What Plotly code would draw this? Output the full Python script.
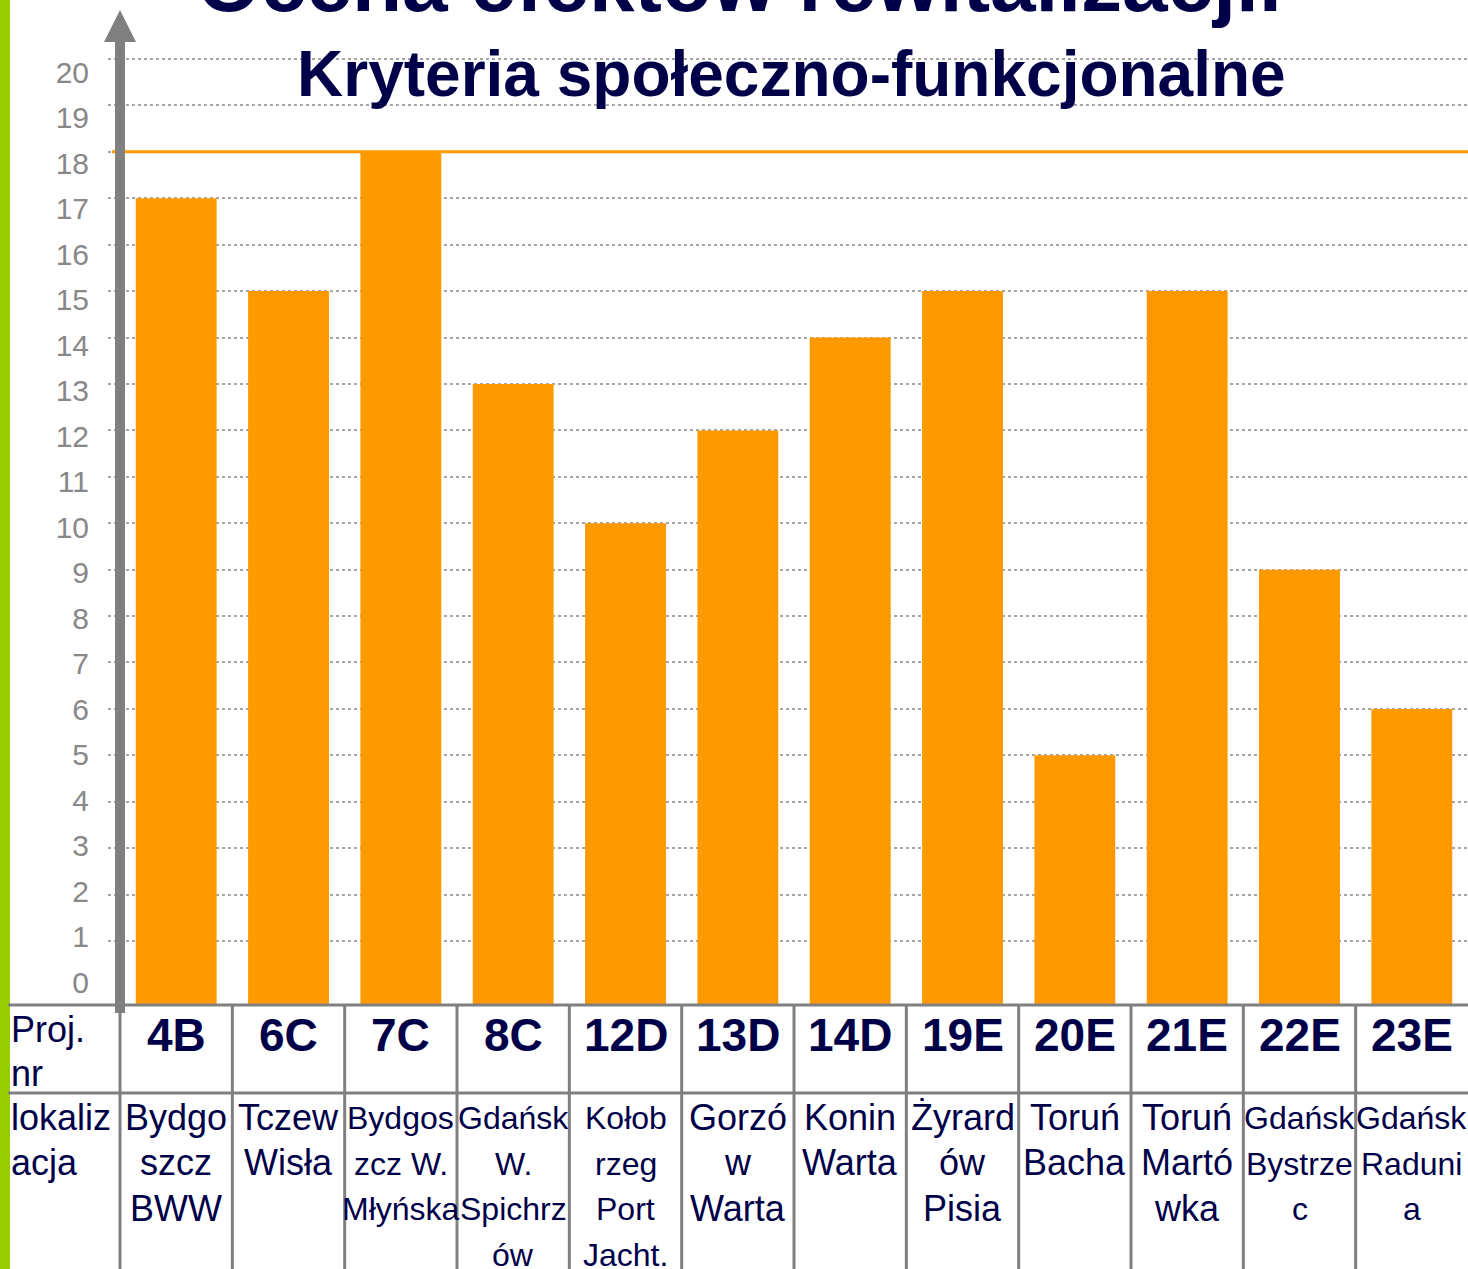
import plotly.graph_objects as go

# ---------------- data ----------------
PROJECTS = ["4B", "6C", "7C", "8C", "12D", "13D", "14D", "19E", "20E", "21E", "22E", "23E"]
LOCATION_LINES = [
    ["Bydgo", "szcz", "BWW"],
    ["Tczew", "Wisła"],
    ["Bydgos", "zcz W.", "Młyńska"],
    ["Gdańsk", "W.", "Spichrz", "ów"],
    ["Kołob", "rzeg", "Port", "Jacht."],
    ["Gorzó", "w", "Warta"],
    ["Konin", "Warta"],
    ["Żyrard", "ów", "Pisia"],
    ["Toruń", "Bacha"],
    ["Toruń", "Martó", "wka"],
    ["Gdańsk", "Bystrze", "c"],
    ["Gdańsk", "Raduni", "a"],
]
SCORES = [17, 15, 18, 13, 10, 12, 14, 15, 5, 15, 9, 6]
THRESHOLD = 18
Y_TICKS = list(range(0, 21))
GRID_TICKS = list(range(1, 21))
TITLE_TOP = "Ocena efektów rewitalizacji."
TITLE = "Kryteria społeczno-funkcjonalne"
ROW_HEAD_1 = ["Proj.", "nr"]
ROW_HEAD_2 = ["lokaliz", "acja"]

# ---------------- style ----------------
W, H = 1468, 1269
ML, MR, MT, MB = 108, 0, 10, 265
NAVY = "#000048"
ORANGE = "#FF9900"
GREY = "#808080"
GREEN = "#99CC00"
FONT = "Liberation Sans, Arial, sans-serif"
CONDENSED = {"7C", "8C", "12D", "22E", "23E"}

Y_MIN, Y_MAX = -0.357, 21.056        # bar/grid axis
Y2_MIN, Y2_MAX = -0.4835, 21.363     # label axis
X_MIN, X_MAX = -0.607, 11.5
ROW2_Y0, ROW2_STEP = 1117, 45.5


def px(x):
    return (x - ML) / (W - ML - MR)


def py(y):
    return (H - MB - y) / (H - MT - MB)


fig = go.Figure()
fig.add_trace(go.Bar(
    x=PROJECTS, y=[v - Y_MIN for v in SCORES], base=Y_MIN,
    marker=dict(color=ORANGE, line=dict(width=0)), width=0.72,
    customdata=SCORES, hovertemplate="%{x}: %{customdata}<extra></extra>",
    showlegend=False,
))
fig.add_trace(go.Scatter(
    x=PROJECTS, y=SCORES, yaxis="y2", mode="markers",
    marker=dict(opacity=0), hoverinfo="skip", showlegend=False,
))

shapes = []
shapes.append(dict(type="rect", xref="paper", yref="paper", x0=px(0), x1=px(10),
                   y0=py(H), y1=py(0), fillcolor=GREEN, line=dict(width=0), layer="above"))
shapes.append(dict(type="line", xref="paper", yref="y", x0=px(112), x1=1,
                   y0=THRESHOLD, y1=THRESHOLD, line=dict(color=ORANGE, width=3), layer="above"))
for yy in (1005, 1093):
    shapes.append(dict(type="line", xref="paper", yref="paper", x0=px(8), x1=1,
                       y0=py(yy), y1=py(yy), line=dict(color=GREY, width=3), layer="above"))
for i in range(len(PROJECTS)):
    shapes.append(dict(type="line", xref="x", yref="paper", x0=i - 0.5, x1=i - 0.5,
                       y0=py(1005), y1=py(H), line=dict(color=GREY, width=3), layer="above"))
shapes.append(dict(type="rect", xref="paper", yref="paper", x0=px(115), x1=px(125),
                   y0=py(1013), y1=py(40), fillcolor=GREY, line=dict(width=0), layer="above"))
shapes.append(dict(type="path", xref="paper", yref="paper",
                   path=f"M {px(104)},{py(42)} L {px(120)},{py(10)} L {px(136)},{py(42)} Z",
                   fillcolor=GREY, line=dict(width=0), layer="above"))

ann = []
ann.append(dict(text=f"<b>{TITLE_TOP}</b>", xref="paper", yref="paper", x=px(739), y=py(-18),
                xanchor="center", yanchor="middle", showarrow=False,
                font=dict(family=FONT, size=82, color=NAVY)))
ann.append(dict(text=f"<b>{TITLE}</b>", xref="paper", yref="paper", x=px(791), y=py(74),
                xanchor="center", yanchor="middle", showarrow=False,
                font=dict(family=FONT, size=64, color=NAVY)))
for k, t in enumerate(ROW_HEAD_1):
    ann.append(dict(text=t, xref="paper", yref="paper", x=px(9), y=py(1029 + 44 * k),
                    xanchor="left", yanchor="middle", showarrow=False,
                    font=dict(family=FONT, size=36, color=NAVY)))
for k, t in enumerate(ROW_HEAD_2):
    ann.append(dict(text=t, xref="paper", yref="paper", x=px(9), y=py(ROW2_Y0 + ROW2_STEP * k),
                    xanchor="left", yanchor="middle", showarrow=False,
                    font=dict(family=FONT, size=36, color=NAVY)))
for p, lines in zip(PROJECTS, LOCATION_LINES):
    ann.append(dict(text=f"<b>{p}</b>", xref="x", yref="paper", x=p, y=py(1035),
                    xanchor="center", yanchor="middle", showarrow=False,
                    font=dict(family=FONT, size=46, color=NAVY)))
    cond = p in CONDENSED
    for k, t in enumerate(lines):
        ann.append(dict(text=t, xref="x", yref="paper", x=p,
                        y=py(ROW2_Y0 + ROW2_STEP * k + (1 if cond else 0)),
                        xanchor="center", yanchor="middle", showarrow=False,
                        font=dict(family=FONT, size=32 if cond else 36, color=NAVY)))

fig.update_layout(
    width=W, height=H, margin=dict(l=ML, r=MR, t=MT, b=MB),
    paper_bgcolor="white", plot_bgcolor="white",
    bargap=0.28, showlegend=False,
    xaxis=dict(range=[X_MIN, X_MAX], showticklabels=False, showgrid=False,
               zeroline=False, showline=False, fixedrange=True),
    yaxis=dict(range=[Y_MIN, Y_MAX], tickmode="array", tickvals=GRID_TICKS,
               showticklabels=False, showgrid=True, griddash="dot",
               gridcolor="#A6A6A6", gridwidth=1.5, zeroline=False, showline=False,
               ticks=""),
    yaxis2=dict(range=[Y2_MIN, Y2_MAX], overlaying="y", side="left", anchor="x",
                tickmode="array", tickvals=Y_TICKS, showgrid=False, zeroline=False,
                showline=False, ticks="", ticklabelstandoff=18,
                tickfont=dict(family=FONT, size=30, color="#888888")),
    shapes=shapes, annotations=ann,
)

fig.write_html("out.html", config={"displayModeBar": False},
               post_script="document.body.style.margin='0';document.body.style.overflow='hidden';")
